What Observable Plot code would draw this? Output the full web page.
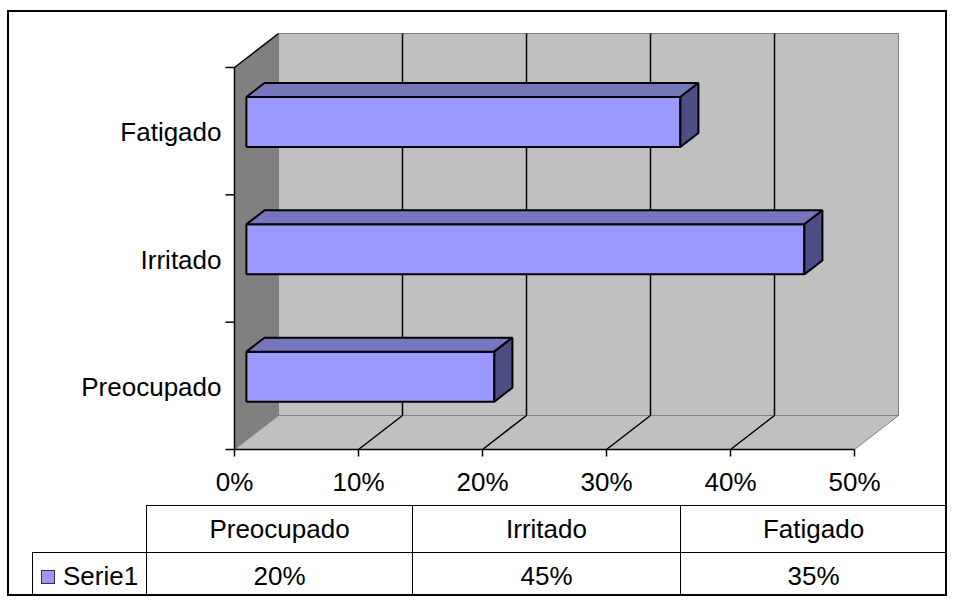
<!DOCTYPE html>
<html>
<head>
<meta charset="utf-8">
<script src="https://cdn.jsdelivr.net/npm/d3@7"></script>
<script src="https://cdn.jsdelivr.net/npm/@observablehq/plot@0.6"></script>
<style>
  html, body { margin: 0; padding: 0; background: #fff; }
  #chart { position: relative; width: 956px; height: 607px; font-family: "Liberation Sans", Arial, sans-serif; }
  #chart svg { position: absolute; left: 0; top: 0; }
  #frame { position: absolute; left: 7px; top: 10px; width: 940px; height: 586px; box-sizing: border-box; border: 2px solid #000; pointer-events: none; }
  #datatable { position: absolute; left: 32px; top: 505px; border-collapse: collapse; table-layout: fixed; font-size: 26px; color: #000; }
  #datatable td { border: 1.5px solid #000; text-align: center; padding: 0; white-space: nowrap; }
  #datatable td.blank { border: none; }
  #datatable tr.head td { height: 46px; }
  #datatable tr.vals td { height: 38px; padding-top: 4px; }
  #datatable td.series { text-align: left; padding-left: 8px; }
  .swatch { display: inline-block; width: 12px; height: 12px; background: #9999ff; border: 1.5px solid #333; margin-right: 8px; vertical-align: 1px; }
</style>
</head>
<body>
<div id="chart"></div>
<script>
// Share of responses per state (Serie1)
const categories = ["Preocupado", "Irritado", "Fatigado"];
const values = [0.20, 0.45, 0.35];
const xTicks = [0, 0.1, 0.2, 0.3, 0.4, 0.5];
const seriesName = "Serie1";

// Plot geometry
const W = 956, H = 500;
const M = {left: 234, right: 102, top: 67, bottom: 51};
const xMax = 0.5;
const depthPx = [44, 34];          // oblique depth of the box, in pixels
const kx = xMax / (W - M.left - M.right);
const ky = categories.length / (H - M.top - M.bottom);
const ddx = depthPx[0] * kx, ddy = depthPx[1] * ky;
const barThick = 0.393;            // bar height as share of a band
const barFront = 0.27, barBack = 0.68; // bar depth range (0 = front, 1 = back)

// oblique projection: value v, category position c, depth t
const proj = (v, c, t) => ({x: v + t * ddx, y: c + t * ddy});
const poly = (id, pts) => [...pts, pts[0]].map(p => ({id, ...p}));

const nCat = categories.length;
const backWall = poly("back", [proj(0, 0, 1), proj(xMax, 0, 1), proj(xMax, nCat, 1), proj(0, nCat, 1)]);
const sideWall = poly("side", [proj(0, 0, 0), proj(0, 0, 1), proj(0, nCat, 1), proj(0, nCat, 0)]);
const floor = poly("floor", [proj(0, 0, 0), proj(xMax, 0, 0), proj(xMax, 0, 1), proj(0, 0, 1)]);

const inner = xTicks.filter(v => v > 0 && v < xMax);
const wallGrid = inner.map(v => ({a: proj(v, 0, 1), b: proj(v, nCat, 1)}));
const floorGrid = inner.map(v => ({a: proj(v, 0, 0), b: proj(v, 0, 1)}));

const fronts = [], tops = [], sides = [];
categories.forEach((name, i) => {
  const v = values[i];
  const lo = i + 0.5 - barThick / 2, hi = i + 0.5 + barThick / 2;
  fronts.push(...poly(name, [proj(0, lo, barFront), proj(v, lo, barFront), proj(v, hi, barFront), proj(0, hi, barFront)]));
  tops.push(...poly(name, [proj(0, hi, barFront), proj(v, hi, barFront), proj(v, hi, barBack), proj(0, hi, barBack)]));
  sides.push(...poly(name, [proj(v, lo, barFront), proj(v, lo, barBack), proj(v, hi, barBack), proj(v, hi, barFront)]));
});

const tickDown = 7 * ky, tickLeft = 9 * kx;
const boundaries = d3.range(nCat + 1);

const face = (data, fill, stroke, strokeWidth) =>
  Plot.line(data, {x: "x", y: "y", z: "id", fill, stroke, strokeWidth, strokeLinejoin: "miter", strokeLinecap: "butt"});
const seg = (data, stroke, strokeWidth) =>
  Plot.link(data, {x1: d => d.a.x, y1: d => d.a.y, x2: d => d.b.x, y2: d => d.b.y, stroke, strokeWidth, strokeLinecap: "butt"});

const plot = Plot.plot({
  width: W,
  height: H,
  marginLeft: M.left,
  marginRight: M.right,
  marginTop: M.top,
  marginBottom: M.bottom,
  x: {domain: [0, xMax], axis: null},
  y: {domain: [0, nCat], axis: null},
  style: {fontFamily: "'Liberation Sans', Arial, sans-serif", fontSize: "26px", background: "transparent", overflow: "visible"},
  marks: [
    face(backWall, "#c0c0c0", "#808080", 1),
    face(sideWall, "#808080", "none", 0),
    face(floor, "#c0c0c0", "#808080", 1),
    seg(wallGrid, "#000", 1.5),
    seg(floorGrid, "#000", 1.5),
    seg([{a: proj(0, nCat, 0), b: proj(0, nCat, 1)}], "#000", 1.5),
    face(fronts, "#9999ff", "#000", 2),
    face(tops, "#7676bd", "#000", 2),
    face(sides, "#4e4e84", "#000", 2),
    // value axis
    seg([{a: proj(0, 0, 0), b: proj(xMax, 0, 0)}], "#000", 1.5),
    seg(xTicks.map(v => ({a: {x: v, y: 0}, b: {x: v, y: -tickDown}})), "#000", 1.5),
    Plot.text(xTicks, {x: d => d, y: 0, text: d => d3.format(".0%")(d), dy: 33.5, fill: "#000"}),
    // category axis
    seg([{a: proj(0, 0, 0), b: proj(0, nCat, 0)}], "#000", 1.5),
    seg(boundaries.map(c => ({a: {x: -tickLeft, y: c}, b: {x: 0, y: c}})), "#000", 1.5),
    Plot.text(categories, {x: 0, y: (d, i) => i + 0.5, text: d => d, textAnchor: "end", dx: -13, dy: 2, fill: "#000"})
  ]
});

const chart = document.getElementById("chart");
chart.appendChild(plot);

// data table under the plot
const fmt = d3.format(".0%");
const colW = [114, 266, 268, 266];
const table = document.createElement("table");
table.id = "datatable";
const cg = document.createElement("colgroup");
colW.forEach(w => { const c = document.createElement("col"); c.style.width = w + "px"; cg.appendChild(c); });
table.appendChild(cg);
const head = table.insertRow();
head.className = "head";
const blank = head.insertCell(); blank.className = "blank";
categories.forEach(c => { head.insertCell().textContent = c; });
const row = table.insertRow();
row.className = "vals";
const sc = row.insertCell();
sc.className = "series";
sc.innerHTML = '<span class="swatch"></span>';
sc.appendChild(document.createTextNode(seriesName));
values.forEach(v => { row.insertCell().textContent = fmt(v); });
chart.appendChild(table);

const frame = document.createElement("div");
frame.id = "frame";
chart.appendChild(frame);
</script>
</body>
</html>
